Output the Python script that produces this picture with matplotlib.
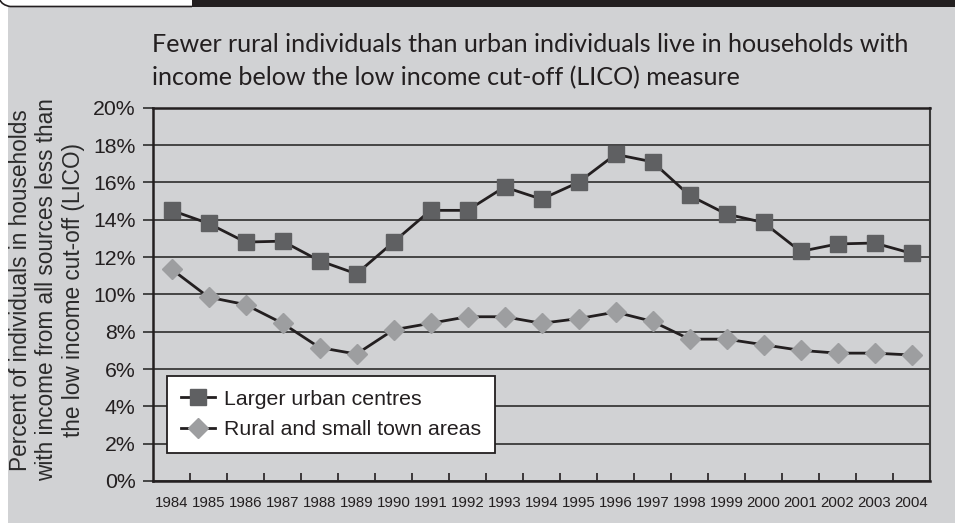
import matplotlib
matplotlib.use("Agg")
import matplotlib.pyplot as plt
from matplotlib.patches import Rectangle
from matplotlib.path import Path
from matplotlib.patches import PathPatch
from matplotlib.ticker import FixedLocator, PercentFormatter

years = [str(y) for y in range(1984, 2005)]
urban = [14.5, 13.8, 12.8, 12.85, 11.8, 11.1, 12.8, 14.5, 14.5, 15.75, 15.1,
         16.0, 17.5, 17.1, 15.3, 14.3, 13.85, 12.3, 12.7, 12.75, 12.2]
rural = [11.35, 9.85, 9.45, 8.45, 7.15, 6.8, 8.1, 8.45, 8.8, 8.8, 8.45,
         8.7, 9.05, 8.55, 7.6, 7.6, 7.3, 7.0, 6.85, 6.85, 6.75]
series_names = ["Larger urban centres", "Rural and small town areas"]
title = ("Fewer rural individuals than urban individuals live in households with\n"
         "income below the low income cut-off (LICO) measure")
ylabel = ("Percent of individuals in households\n"
          "with income from all sources less than\n"
          "the low income cut-off (LICO)")

BG = "#d1d2d4"
INK = "#231f20"
W, H = 955, 523

plt.rcParams["font.family"] = ["Liberation Sans", "DejaVu Sans"]

fig = plt.figure(figsize=(W / 100, H / 100), dpi=100, facecolor="white")

# panel background and header strip
fig.patches.append(Rectangle((8 / W, 0), 1 - 8 / W, 1 - 7 / H,
                             transform=fig.transFigure, facecolor=BG,
                             edgecolor="none", zorder=-2))
fig.patches.append(Rectangle((192 / W, 1 - 7 / H), 1 - 192 / W, 7 / H,
                             transform=fig.transFigure, facecolor=INK,
                             edgecolor="none", zorder=-2))
tab = Path([(0 / W, 1.0), (2 / W, 1 - 5 / H), (10 / W, 1 - 6.5 / H),
            (192 / W, 1 - 6.5 / H)],
           [Path.MOVETO, Path.CURVE3, Path.CURVE3, Path.LINETO])
fig.patches.append(PathPatch(tab, transform=fig.transFigure, facecolor="none",
                             edgecolor=INK, lw=1.2, zorder=-1))

ax = fig.add_axes([153 / W, 1 - 481 / H, (930 - 153) / W, (481 - 107.7) / H])
ax.set_facecolor(BG)

x = list(range(len(years)))
ax.plot(x, urban, color=INK, lw=2.0, marker="s", markersize=11,
        markerfacecolor="#5f6062", markeredgecolor="#5f6062", zorder=3,
        label=series_names[0])
ax.plot(x, rural, color=INK, lw=2.0, marker="D", markersize=10,
        markerfacecolor="#9d9ea0", markeredgecolor="#9d9ea0", zorder=3,
        label=series_names[1])

ax.set_xlim(-0.5, len(years) - 0.5)
ax.set_ylim(0, 20)
ax.set_yticks(range(0, 21, 2))
ax.yaxis.set_major_formatter(PercentFormatter(decimals=0))
ax.grid(axis="y", color="#3a3a3a", lw=1.3, zorder=1)
ax.set_axisbelow(True)

ax.set_xticks(x)
ax.set_xticklabels(years)
ax.xaxis.set_minor_locator(FixedLocator([i + 0.5 for i in range(len(years) - 1)]))
ax.tick_params(axis="x", which="major", length=0, pad=11, labelsize=10.8,
               labelcolor=INK)
ax.tick_params(axis="x", which="minor", direction="in", length=5.5, width=1.2,
               color=INK)
ax.tick_params(axis="y", direction="out", length=7.5, width=1.3, color="#3a3a3a",
               pad=5, labelsize=15.3, labelcolor=INK)

for side in ["left", "bottom", "top"]:
    ax.spines[side].set_color(INK)
    ax.spines[side].set_linewidth(1.8)
ax.spines["right"].set_color("#3a3a3a")
ax.spines["right"].set_linewidth(1.5)

leg = ax.legend(loc="lower left", bbox_to_anchor=(0.018, 0.075), borderaxespad=0,
                fontsize=15.3, frameon=True, fancybox=False, handlelength=1.6,
                handletextpad=0.45, borderpad=0.65, labelspacing=0.55,
                labelcolor=INK)
leg.get_frame().set_facecolor("white")
leg.get_frame().set_edgecolor(INK)
leg.get_frame().set_linewidth(1.3)
leg.get_frame().set_alpha(1)

fig.text(47 / W, 1 - 290 / H, ylabel, rotation=90, ha="center", va="center",
         multialignment="center", fontsize=16.3, color="#2b2b2b", linespacing=1.22)

fig.text(152 / W, 1 - 33 / H, title, ha="left", va="top", fontsize=18.1,
         family=["Lato", "DejaVu Sans"], color=INK, linespacing=1.5)

fig.savefig("out.png", dpi=100, facecolor=fig.get_facecolor())
